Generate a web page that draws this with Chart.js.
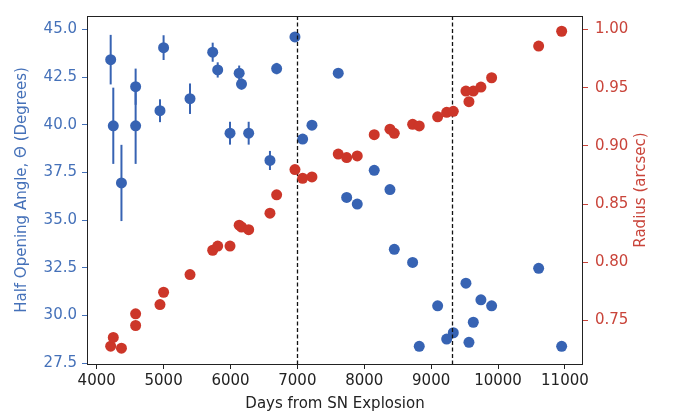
<!DOCTYPE html>
<html>
<head>
<meta charset="utf-8">
<script src="https://cdn.jsdelivr.net/npm/chart.js@4/dist/chart.umd.min.js"></script>
<style>
  body { margin: 0; background: #fff; }
</style>
</head>
<body>
<canvas id="chart" width="678" height="415"></canvas>
<script>
// observation epochs (days after explosion)
const days = [4209, 4248, 4370, 4582, 4582, 4946, 5000, 5395, 5734, 5809, 5993, 6130, 6165, 6272,
  6590, 6690, 6964, 7079, 7218, 7611, 7737, 7895, 8149, 8384, 8449, 8723, 8822, 9097, 9232, 9331,
  9520, 9565, 9630, 9744, 9904, 10607, 10951];

// half opening angle (degrees) and its error
const angle = [43.42, 39.95, 36.95, 42.0, 39.95, 40.74, 44.05, 41.37, 43.81, 42.88, 39.56, 42.71,
  42.14, 39.56, 38.13, 42.95, 44.61, 39.25, 39.98, 42.71, 36.19, 35.84, 37.61, 36.6, 33.47, 32.78,
  28.38, 30.5, 28.76, 29.09, 31.69, 28.59, 29.64, 30.82, 30.5, 32.47, 28.38];
const angleErr = [1.3, 2.0, 2.0, 0.95, 2.0, 0.6, 0.65, 0.8, 0.5, 0.4, 0.6, 0.4, 0.3, 0.6, 0.5, 0.3,
  0, 0, 0, 0, 0, 0, 0, 0, 0, 0, 0, 0, 0, 0, 0, 0, 0, 0, 0, 0, 0];

// ring radius (arcsec)
const radius = [0.7278, 0.7353, 0.7261, 0.7556, 0.7456, 0.7636, 0.7742, 0.7894, 0.8103, 0.8139,
  0.8139, 0.8319, 0.8303, 0.828, 0.8422, 0.858, 0.8797, 0.8722, 0.8733, 0.893, 0.89, 0.8914, 0.9097,
  0.9144, 0.9108, 0.9186, 0.9172, 0.925, 0.9289, 0.9297, 0.9472, 0.938, 0.9472, 0.9506, 0.9586,
  0.9858, 0.9986];

// dashed marker lines
const markerDays = [7000, 9310];

const dayTicks = [4000, 5000, 6000, 7000, 8000, 9000, 10000, 11000];
const angleTicks = [27.5, 30.0, 32.5, 35.0, 37.5, 40.0, 42.5, 45.0];
const radiusTicks = [0.75, 0.80, 0.85, 0.90, 0.95, 1.00];

const BLUE = '#3763b3';
const RED = '#cc3629';
const BLUE_TEXT = '#4571b9';
const RED_TEXT = '#c9443a';
const RADIUS_TITLE = 'Radius (arcsec)';

Chart.defaults.font.family = 'DejaVu Sans';
Chart.defaults.font.size = 15;

const extras = {
  id: 'extras',
  beforeDatasetDraw(chart, args) {
    if (args.index !== 0) return;
    const { ctx } = chart;
    const x = chart.scales.x, y = chart.scales.yAngle;
    ctx.save();
    ctx.strokeStyle = BLUE;
    ctx.lineWidth = 2;
    days.forEach((d, i) => {
      if (!angleErr[i]) return;
      const px = x.getPixelForValue(d);
      ctx.beginPath();
      ctx.moveTo(px, y.getPixelForValue(angle[i] - angleErr[i]));
      ctx.lineTo(px, y.getPixelForValue(angle[i] + angleErr[i]));
      ctx.stroke();
    });
    ctx.restore();
  },
  afterDatasetDraw(chart, args) {
    if (args.index !== 0) return;
    const { ctx, chartArea } = chart;
    const x = chart.scales.x;
    ctx.save();
    ctx.strokeStyle = '#111';
    ctx.lineWidth = 1.3;
    ctx.setLineDash([4, 2.5]);
    markerDays.forEach(d => {
      const px = Math.round(x.getPixelForValue(d)) + 0.5;
      ctx.beginPath();
      ctx.moveTo(px, chartArea.top);
      ctx.lineTo(px, chartArea.bottom);
      ctx.stroke();
    });
    ctx.restore();
  },
  afterDraw(chart) {
    const { ctx, chartArea: a } = chart;
    ctx.save();
    ctx.strokeStyle = '#222';
    ctx.lineWidth = 1;
    ctx.strokeRect(a.left + 0.5, a.top + 0.5, a.right - a.left - 1, a.bottom - a.top);

    // right axis title reads bottom-to-top, like matplotlib's twinx label
    const r = chart.scales.yRadius;
    ctx.translate(r.right - 37, (a.top + a.bottom) / 2);
    ctx.rotate(-Math.PI / 2);
    ctx.fillStyle = RED_TEXT;
    ctx.font = '15px "DejaVu Sans"';
    ctx.textAlign = 'center';
    ctx.textBaseline = 'middle';
    ctx.fillText(RADIUS_TITLE, 0, 0);
    ctx.restore();
  }
};

new Chart(document.getElementById('chart'), {
  type: 'scatter',
  data: {
    datasets: [{
      label: 'Half opening angle',
      data: days.map((d, i) => ({ x: d, y: angle[i] })),
      yAxisID: 'yAngle',
      backgroundColor: BLUE,
      borderWidth: 0,
      pointRadius: 5.5,
      order: 2
    }, {
      label: 'Radius',
      data: days.map((d, i) => ({ x: d, y: radius[i] })),
      yAxisID: 'yRadius',
      backgroundColor: RED,
      borderWidth: 0,
      pointRadius: 5.5,
      order: 1
    }]
  },
  options: {
    responsive: false,
    animation: false,
    layout: { padding: { top: 5, left: 0, right: 0, bottom: 0 } },
    plugins: {
      legend: { display: false },
      tooltip: { enabled: false }
    },
    scales: {
      x: {
        type: 'linear',
        min: 3855,
        max: 11270,
        afterBuildTicks: s => { s.ticks = dayTicks.map(v => ({ value: v })); },
        afterFit: s => { s.height = 51; },
        grid: { drawOnChartArea: false, tickLength: 5, color: '#222' },
        border: { display: false },
        ticks: { color: '#222', padding: 3, maxRotation: 0, autoSkip: false, callback: v => String(v) },
        title: { display: true, text: 'Days from SN Explosion', color: '#222', padding: { top: 0, bottom: 2 } }
      },
      yAngle: {
        type: 'linear',
        position: 'left',
        min: 27.45,
        max: 45.71,
        afterBuildTicks: s => { s.ticks = angleTicks.map(v => ({ value: v })); },
        afterFit: s => { s.width = 87; },
        grid: { drawOnChartArea: false, tickLength: 5, color: BLUE_TEXT },
        border: { display: false },
        ticks: { color: BLUE_TEXT, padding: 5, autoSkip: false, callback: v => v.toFixed(1) },
        title: { display: true, text: 'Half Opening Angle, \u0398 (Degrees)', color: BLUE_TEXT, padding: { top: 13, bottom: 0 } }
      },
      yRadius: {
        type: 'linear',
        position: 'right',
        min: 0.7125,
        max: 1.0117,
        afterBuildTicks: s => { s.ticks = radiusTicks.map(v => ({ value: v })); },
        afterFit: s => { s.width = 95; },
        grid: { drawOnChartArea: false, tickLength: 5, color: RED_TEXT },
        border: { display: false },
        ticks: { color: RED_TEXT, padding: 7, autoSkip: false, callback: v => v.toFixed(2) },
        title: { display: false }
      }
    }
  },
  plugins: [extras]
});
</script>
</body>
</html>
